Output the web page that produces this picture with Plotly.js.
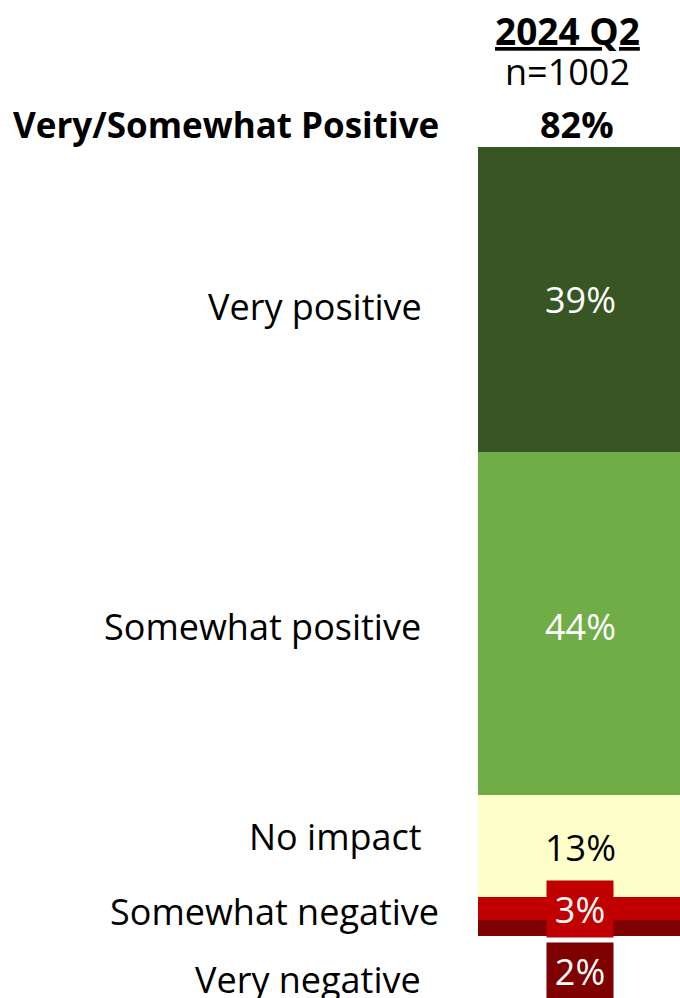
<!DOCTYPE html>
<html>
<head>
<meta charset="utf-8">
<script src="https://cdn.plot.ly/plotly-3.0.1.min.js"></script>
<style>
  html, body { margin: 0; padding: 0; background: #ffffff; }
  #chart { width: 680px; height: 998px; }
</style>
</head>
<body>
<div id="chart"></div>
<script>
// ---- data ----
const categories = ['Very positive', 'Somewhat positive', 'No impact', 'Somewhat negative', 'Very negative'];
const values = [39, 44, 13, 3, 2];
const period = '2024 Q2';
const sampleSize = 'n=1002';
const netLabel = 'Very/Somewhat Positive';
const netValue = 82;

// ---- style ----
const segColors = ['#375623', '#70AD47', '#FFFFCC', '#C00000', '#7F0000'];
const valueFontColors = ['#FFFFFF', '#FFFFFF', '#000000', '#FFFFFF', '#FFFFFF'];
const valueBoxColors = [null, null, null, '#C00000', '#7F0000'];
const labelRightPx = [424, 423, 424, 441, 423];
const labelShift = [-7, -3, 9, -3, -52];
const valueShift = [0, -3, -2, -1, -43];

const W = 680, H = 998;
const FONT = 'Open Sans, Noto Sans, sans-serif';
const FS = 36;

// axis geometry: bar from px 477.5 to 682.5, top at y=147, 7.808 px per percent
const barLeft = 477.5, barWidthPx = 205;
const x0 = -0.5 - barLeft / barWidthPx;
const x1 = x0 + W / barWidthPx;
const pxPerUnit = 7.808, barTop = 147;
const yTop = -barTop / pxPerUnit;
const yBot = (H - barTop) / pxPerUnit;

const traces = categories.map((c, i) => ({
  type: 'bar',
  x: [0],
  y: [values[i]],
  name: c,
  width: 1,
  marker: { color: segColors[i], line: { width: 0 } },
  hoverinfo: 'none',
  showlegend: false
}));

const annotations = [];
let cum = 0;
categories.forEach((c, i) => {
  const mid = cum + values[i] / 2;
  cum += values[i];
  annotations.push({
    text: c, xref: 'paper', yref: 'y', x: labelRightPx[i] / W, y: mid,
    xanchor: 'right', yanchor: 'middle', yshift: labelShift[i], showarrow: false,
    font: { family: FONT, size: FS, color: '#000000' }
  });
  const box = valueBoxColors[i];
  const a = {
    text: values[i] + '%', xref: 'x', yref: 'y', x: 0, y: mid,
    xanchor: 'center', yanchor: 'middle', yshift: valueShift[i], showarrow: false,
    font: { family: FONT, size: FS, color: valueFontColors[i] }
  };
  if (box) {
    a.bgcolor = box; a.width = 62; a.height = 52; a.borderpad = 2;
  }
  annotations.push(a);
});

// header
annotations.push({
  text: '<b><u>' + period + '</u></b>', xref: 'paper', yref: 'paper',
  x: 567 / W, y: 1 - 30 / H, xanchor: 'center', yanchor: 'middle', showarrow: false,
  font: { family: FONT, size: 37, color: '#000000' }
});
annotations.push({
  text: sampleSize, xref: 'paper', yref: 'paper',
  x: 567 / W, y: 1 - 71 / H, xanchor: 'center', yanchor: 'middle', showarrow: false,
  font: { family: FONT, size: FS, color: '#000000' }
});
annotations.push({
  text: '<b>' + netValue + '%</b>', xref: 'paper', yref: 'paper',
  x: 577 / W, y: 1 - 125 / H, xanchor: 'center', yanchor: 'middle', showarrow: false,
  font: { family: FONT, size: 36, color: '#000000' }
});
annotations.push({
  text: '<b>' + netLabel + '</b>', xref: 'paper', yref: 'paper',
  x: 441 / W, y: 1 - 125 / H, xanchor: 'right', yanchor: 'middle', showarrow: false,
  font: { family: FONT, size: 35, color: '#000000' }
});

const layout = {
  width: W, height: H,
  margin: { l: 0, r: 0, t: 0, b: 0, pad: 0 },
  paper_bgcolor: '#FFFFFF', plot_bgcolor: '#FFFFFF',
  barmode: 'stack', bargap: 0,
  xaxis: { range: [x0, x1], visible: false, fixedrange: true },
  yaxis: { range: [yBot, yTop], visible: false, fixedrange: true },
  annotations: annotations,
  showlegend: false
};

Plotly.newPlot('chart', traces, layout, { staticPlot: true, displayModeBar: false });
</script>
</body>
</html>
